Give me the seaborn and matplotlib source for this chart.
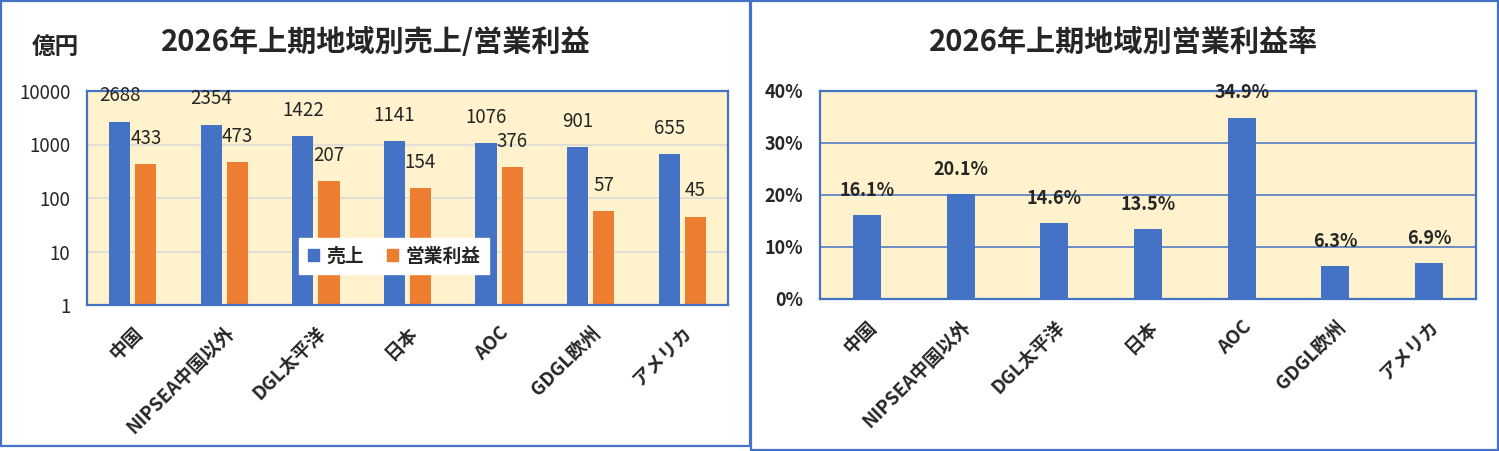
import matplotlib
matplotlib.use("Agg")
import matplotlib.pyplot as plt
import numpy as np
import pandas as pd
import seaborn as sns
from matplotlib.patches import Rectangle

# data
regions = ["中国", "NIPSEA中国以外", "DGL太平洋", "日本", "AOC", "GDGL欧州", "アメリカ"]
sales = [2688, 2354, 1422, 1141, 1076, 901, 655]
op_profit = [433, 473, 207, 154, 376, 57, 45]
margin_pct = [16.1, 20.1, 14.6, 13.5, 34.9, 6.3, 6.9]
log_ticks = [1, 10, 100, 1000, 10000]
pct_ticks = [0, 10, 20, 30, 40]

BLUE = "#4472C4"
ORANGE = "#ED7D31"
BG = "#FFF2CC"

sns.set_style("white")
plt.rcParams["font.family"] = ["Noto Sans CJK JP", "DejaVu Sans"]

W, H = 1499, 451


def fig_rect(x0, y0, x1, y1):
    # pixel box (top-left origin) -> figure fraction [l, b, w, h]
    return [x0 / W, 1 - y1 / H, (x1 - x0) / W, (y1 - y0) / H]


fig = plt.figure(figsize=(W / 100, H / 100), dpi=100)

# panel frames
for x0, y0, x1, y1 in [(1, 1, 750, 445.5), (750.5, 1, 1497.5, 450)]:
    fig.add_artist(Rectangle((x0 / W, 1 - y1 / H), (x1 - x0) / W, (y1 - y0) / H,
                             transform=fig.transFigure, fill=False,
                             edgecolor=BLUE, linewidth=1.6))

# ---------- left: sales / operating profit (log) ----------
df = pd.DataFrame({
    "地域": regions * 2,
    "区分": ["売上"] * len(regions) + ["営業利益"] * len(regions),
    "値": sales + op_profit,
})

ax1 = fig.add_axes(fig_rect(87, 91, 728, 305))
ax1.set_facecolor(BG)
sns.barplot(data=df, x="地域", y="値", hue="区分",
            palette={"売上": BLUE, "営業利益": ORANGE},
            width=0.57, gap=0.19, saturation=1, linewidth=0,
            ax=ax1, legend=False)
ax1.set_yscale("log")
ax1.set_ylim(1, 10000)
ax1.set_yticks(log_ticks)
ax1.set_yticklabels([str(t) for t in log_ticks])
ax1.minorticks_off()
ax1.grid(axis="y", color="#D9D9D9", linewidth=1.1)
ax1.set_axisbelow(True)
for sp in ax1.spines.values():
    sp.set_visible(True)
    sp.set_color(BLUE)
    sp.set_linewidth(1.6)
ax1.set_xlabel("")
ax1.set_ylabel("")
ax1.tick_params(axis="y", length=0, pad=12, labelsize=13.5)
ax1.tick_params(axis="x", length=0, pad=13, labelsize=13.5)
for lab in ax1.get_xticklabels():
    lab.set_rotation(45)
    lab.set_ha("right")
    lab.set_rotation_mode("anchor")
    lab.set_fontweight("bold")

for cont, vals in zip(ax1.containers, [sales, op_profit]):
    ax1.bar_label(cont, labels=[str(v) for v in vals], padding=11, fontsize=13.5)

handles = [Rectangle((0, 0), 1, 1, color=BLUE), Rectangle((0, 0), 1, 1, color=ORANGE)]
leg = ax1.legend(handles, ["売上", "営業利益"], loc="center",
                 bbox_to_anchor=(0.479, 0.227), ncol=2, frameon=True,
                 fancybox=False, edgecolor="white", framealpha=1,
                 handlelength=0.6, handleheight=0.6, handletextpad=0.4,
                 columnspacing=1.2, borderpad=0.45,
                 prop={"size": 13.5, "weight": "bold"})

fig.text(376 / W, 1 - 42 / H, "2026年上期地域別売上/営業利益", ha="center", va="center",
         fontsize=21, fontweight="bold")
fig.text(55 / W, 1 - 47 / H, "億円", ha="center", va="center",
         fontsize=17, fontweight="bold")

# ---------- right: operating margin ----------
dm = pd.DataFrame({"地域": regions, "率": margin_pct})
ax2 = fig.add_axes(fig_rect(820, 91, 1476, 299))
ax2.set_facecolor(BG)
sns.barplot(data=dm, x="地域", y="率", color=BLUE, width=0.3,
            saturation=1, linewidth=0, ax=ax2)
ax2.set_ylim(0, 40)
ax2.set_yticks(pct_ticks)
ax2.set_yticklabels([f"{t}%" for t in pct_ticks])
ax2.grid(axis="y", color=BLUE, linewidth=1.1)
ax2.set_axisbelow(True)
for sp in ax2.spines.values():
    sp.set_visible(True)
    sp.set_color(BLUE)
    sp.set_linewidth(1.6)
ax2.set_xlabel("")
ax2.set_ylabel("")
ax2.tick_params(axis="y", length=0, pad=12, labelsize=13)
ax2.tick_params(axis="x", length=0, pad=13, labelsize=13.5)
for lab in ax2.get_yticklabels():
    lab.set_fontweight("bold")
for lab in ax2.get_xticklabels():
    lab.set_rotation(45)
    lab.set_ha("right")
    lab.set_rotation_mode("anchor")
    lab.set_fontweight("bold")

ax2.bar_label(ax2.containers[0], labels=[f"{v:.1f}%" for v in margin_pct],
              padding=11, fontsize=13, fontweight="bold")

fig.text(1124 / W, 1 - 42 / H, "2026年上期地域別営業利益率", ha="center", va="center",
         fontsize=21, fontweight="bold")

fig.savefig("out.png", dpi=100)
